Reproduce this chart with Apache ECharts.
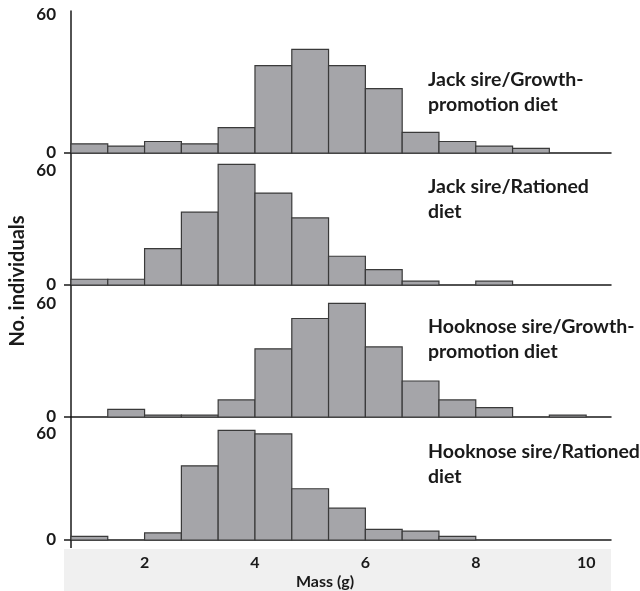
<!DOCTYPE html>
<html>
<head>
<meta charset="utf-8">
<script src="https://cdn.jsdelivr.net/npm/echarts@6/dist/echarts.min.js"></script>
<style>
  html, body { margin: 0; padding: 0; background: #fff; }
  #chart { width: 640px; height: 591px; }
</style>
</head>
<body>
<div id="chart"></div>
<script>
// Bin edges for body mass (g); each bin spans two consecutive edges
const binEdges = [0.667, 1.333, 2, 2.667, 3.333, 4, 4.667, 5.333, 6, 6.667, 7.333, 8, 8.667, 9.333, 10];

// Counts of individuals per bin, one array per sire type / diet group
const jackGrowth     = [4, 3, 5, 4, 11, 38, 45, 38, 28, 9, 5, 3, 2, 0];
const jackRationed   = [3, 3, 19, 38, 63, 48, 35, 15, 8, 2, 0, 2, 0, 0];
const hookGrowth     = [0, 4, 1, 1, 9, 36, 52, 60, 37, 19, 9, 5, 0, 1];
const hookRationed   = [2, 0, 4, 42, 62, 60, 29, 18, 6, 5, 2, 0, 0, 0];

const panelTitles = [
  'Jack sire/Growth-\npromotion diet',
  'Jack sire/Rationed\ndiet',
  'Hooknose sire/Growth-\npromotion diet',
  'Hooknose sire/Rationed\ndiet'
];
const yTickLabels = [0, 60];
const xTickLabels = [2, 4, 6, 8, 10];
const xAxisTitle = 'Mass (g)';
const yAxisTitle = 'No. individuals';

const groups = [jackGrowth, jackRationed, hookGrowth, hookRationed];

// Panel layout (pixels), y-range and caption offset for each panel
const plotLeft = 71, plotRight = 29;
const panels = [
  { top: 11,  height: 142, yMax: 61.7, captionTop: 56 },
  { top: 153, height: 132, yMax: 68.9, captionTop: 21 },
  { top: 285, height: 132, yMax: 69.7, captionTop: 29 },
  { top: 417, height: 131, yMax: 69.6, captionTop: 22 }
];
const xMin = 0.667, xMax = 10.45;

const font = 'Lato, "Open Sans", sans-serif';
const ink = '#1a1a1a';

function toBins(counts) {
  const out = [];
  counts.forEach((c, i) => {
    if (c > 0) out.push([binEdges[i], binEdges[i + 1], c]);
  });
  return out;
}

function renderBin(params, api) {
  const x0 = api.value(0), x1 = api.value(1), n = api.value(2);
  const topLeft = api.coord([x0, n]);
  const bottomRight = api.coord([x1, 0]);
  return {
    type: 'rect',
    shape: {
      x: topLeft[0], y: topLeft[1],
      width: bottomRight[0] - topLeft[0],
      height: bottomRight[1] - topLeft[1]
    },
    style: { fill: '#a5a5a9', stroke: '#3a3a3a', lineWidth: 1.2 }
  };
}

const grids = [], xAxes = [], yAxes = [], series = [], titles = [];
panels.forEach((p, i) => {
  const last = i === panels.length - 1;
  grids.push({ left: plotLeft, right: plotRight, top: p.top, height: p.height });
  xAxes.push({
    type: 'value', gridIndex: i, min: xMin, max: xMax,
    splitLine: { show: false },
    axisLine: { onZero: false, lineStyle: { color: ink, width: 1.5 } },
    axisTick: last
      ? { show: true, customValues: [xMin], length: 8, lineStyle: { color: ink, width: 1.5 } }
      : { show: false },
    axisLabel: last
      ? { show: true, customValues: xTickLabels, color: ink, fontFamily: font,
          fontWeight: 'bold', fontSize: 16, margin: 15 }
      : { show: false },
    name: last ? xAxisTitle : '',
    nameLocation: 'middle', nameGap: 34,
    nameTextStyle: { color: ink, fontFamily: font, fontWeight: 'bold', fontSize: 16,
                     padding: [0, 32, 0, 0] }
  });
  yAxes.push({
    type: 'value', gridIndex: i, min: 0, max: p.yMax,
    splitLine: { show: false },
    axisLine: { show: true, lineStyle: { color: ink, width: 1.5 } },
    axisTick: { show: true, customValues: [0], length: 7, lineStyle: { color: ink, width: 1.5 } },
    axisLabel: { customValues: yTickLabels, color: ink, fontFamily: font,
                 fontWeight: 'bold', fontSize: 17, margin: 15 }
  });
  series.push({
    type: 'custom', xAxisIndex: i, yAxisIndex: i,
    renderItem: renderBin,
    encode: { x: [0, 1], y: 2 },
    data: toBins(groups[i])
  });
  titles.push({
    text: panelTitles[i], left: 428, top: p.top + p.captionTop, padding: 0,
    textStyle: { color: ink, fontFamily: font, fontWeight: 'bold', fontSize: 19.5, lineHeight: 25 }
  });
});

const chart = echarts.init(document.getElementById('chart'), null, { renderer: 'canvas' });
chart.setOption({
  animation: false,
  backgroundColor: '#fff',
  title: titles,
  grid: grids,
  xAxis: xAxes,
  yAxis: yAxes,
  series: series,
  graphic: [
    {
      type: 'rect', z: -10, silent: true,
      shape: { x: 64, y: 549, width: 547, height: 42 },
      style: { fill: '#f0f0f0' }
    },
    {
      type: 'text', x: 18, y: 281, rotation: Math.PI / 2,
      style: { text: yAxisTitle, fill: ink, font: 'bold 20px ' + font,
               textAlign: 'center', textVerticalAlign: 'middle' }
    }
  ]
});
</script>
</body>
</html>
